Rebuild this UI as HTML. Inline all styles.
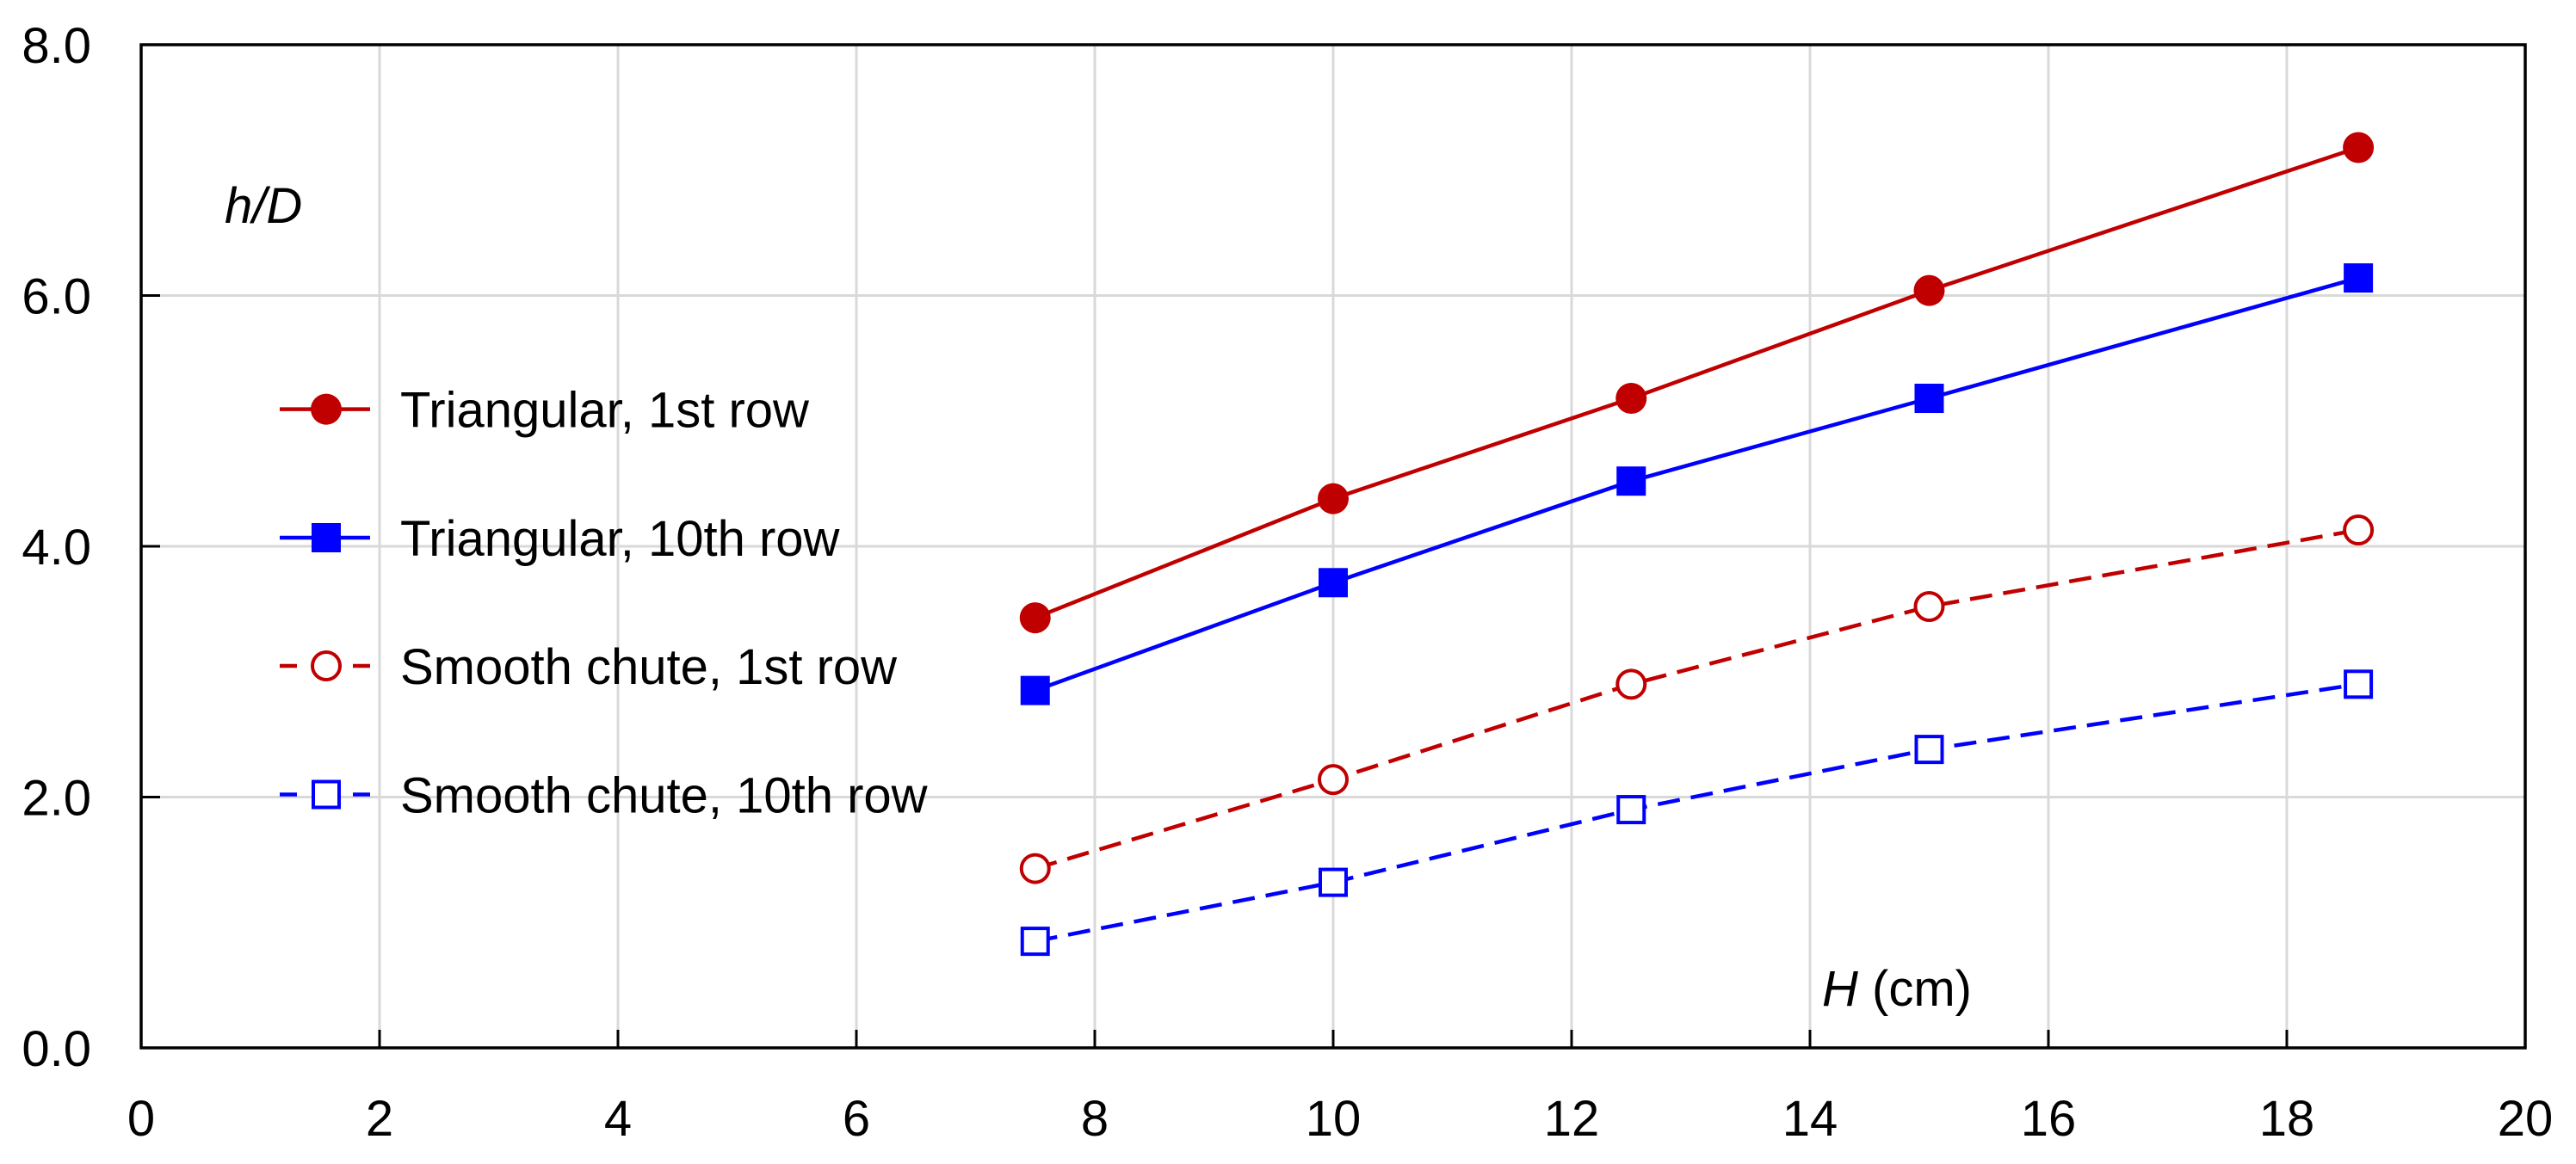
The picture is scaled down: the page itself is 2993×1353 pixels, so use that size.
<!DOCTYPE html>
<html><head><meta charset="utf-8"><style>
html,body{margin:0;padding:0;background:#fff;}
svg{display:block;font-family:"Liberation Sans",sans-serif;}
</style></head><body>
<svg id="chart" width="2993" height="1353" viewBox="0 0 2993 1353" xmlns="http://www.w3.org/2000/svg">
<g id="grid"></g>
<g id="series"></g>
<rect x="164" y="52" width="2770" height="1166" fill="none" stroke="#000" stroke-width="3.5"/>
<g id="ticks"></g>
<text x="261" y="259" font-size="58" font-style="italic">h/D</text>
<text x="2117" y="1169" font-size="58"><tspan font-style="italic">H</tspan> (cm)</text>
<g id="legend"></g>
</svg>
<script>
const categories = [7.5, 10, 12.5, 15, 18.6];
const triFirst = [3.43, 4.38, 5.18, 6.04, 7.18];
const triTenth = [2.85, 3.71, 4.52, 5.18, 6.14];
const smoothFirst = [1.43, 2.14, 2.90, 3.52, 4.13];
const smoothTenth = [0.85, 1.32, 1.90, 2.38, 2.90];
const xTicks = [0, 2, 4, 6, 8, 10, 12, 14, 16, 18, 20];
const yTicks = [0, 2, 4, 6, 8];
const yTickLabels = ["0.0", "2.0", "4.0", "6.0", "8.0"];
const seriesNames = ["Triangular, 1st row", "Triangular, 10th row", "Smooth chute, 1st row", "Smooth chute, 10th row"];

const NS = "http://www.w3.org/2000/svg";
const L = 164, R = 2934, T = 52, B = 1218;
const xs = v => L + (v - 0) / 20 * (R - L);
const ys = v => B - (v - 0) / 8 * (B - T);
function mk(tag, attrs, parent) {
  const e = document.createElementNS(NS, tag);
  for (const k in attrs) e.setAttribute(k, attrs[k]);
  parent.appendChild(e);
  return e;
}
const grid = document.getElementById('grid');
const ticks = document.getElementById('ticks');
xTicks.forEach(t => {
  if (t > 0 && t < 20) {
    const g = mk('line', {x1: xs(t), x2: xs(t), y1: T, y2: B, stroke: '#d9d9d9', 'stroke-width': 3}, grid);
    
    
    const tk = mk('line', {x1: xs(t), x2: xs(t), y1: B, y2: B - 21, stroke: '#000', 'stroke-width': 3}, ticks);
    
    
  }
  const lb = mk('text', {x: xs(t), y: 1320, 'font-size': 58, 'text-anchor': 'middle'}, ticks);
  lb.textContent = t;
  
  
});
yTicks.forEach((t, i) => {
  if (t > 0 && t < 8) {
    const g = mk('line', {x1: L, x2: R, y1: ys(t), y2: ys(t), stroke: '#d9d9d9', 'stroke-width': 3}, grid);
    
    
    const tk = mk('line', {x1: L, x2: L + 22, y1: ys(t), y2: ys(t), stroke: '#000', 'stroke-width': 3}, ticks);
    
    
  }
  const lb = mk('text', {x: 106, y: ys(t) + 21, 'font-size': 58, 'text-anchor': 'end'}, ticks);
  lb.textContent = yTickLabels[i];
  
  
});

const RED = '#c00000', BLUE = '#0000ff';
const styles = [
  {data: triFirst, color: RED, dash: null, shape: 'circle', fill: true},
  {data: triTenth, color: BLUE, dash: null, shape: 'square', fill: true},
  {data: smoothFirst, color: RED, dash: '26 13', shape: 'circle', fill: false},
  {data: smoothTenth, color: BLUE, dash: '26 13', shape: 'square', fill: false}
];
function marker(shape, cx, cy, color, fill, parent) {
  let m;
  if (shape === 'circle') {
    m = mk('circle', {cx: cx, cy: cy, r: fill ? 18 : 16, fill: fill ? color : '#fff', stroke: color, 'stroke-width': fill ? 0 : 4}, parent);
  } else {
    const h = fill ? 17 : 15;
    m = mk('rect', {x: cx - h, y: cy - h, width: 2 * h, height: 2 * h, fill: fill ? color : '#fff', stroke: color, 'stroke-width': fill ? 0 : 4}, parent);
  }
  return m;
}
const sg = document.getElementById('series');
styles.forEach((s, si) => {
  const g = mk('g', {}, sg);
  
  
  const pts = s.data.map((v, i) => xs(categories[i]) + ',' + ys(v)).join(' ');
  const pl = mk('polyline', {points: pts, fill: 'none', stroke: s.color, 'stroke-width': 4.5}, g);
  if (s.dash) pl.setAttribute('stroke-dasharray', s.dash);
  
  
  s.data.forEach((v, i) => {
    const m = marker(s.shape, xs(categories[i]), ys(v), s.color, s.fill, g);
    
    
  });
});

const lg = document.getElementById('legend');
const rowsY = [475.6, 625, 774, 923.5];
styles.forEach((s, i) => {
  const g = mk('g', {}, lg);
  
  
  const y = rowsY[i];
  const ln = mk('line', {x1: 325, x2: 430, y1: y, y2: y, stroke: s.color, 'stroke-width': 4.5}, g);
  if (s.dash) ln.setAttribute('stroke-dasharray', '20 65');
  marker(s.shape, 379, y, s.color, s.fill, g);
  const t = mk('text', {x: 465, y: y + 21, 'font-size': 58}, g);
  t.textContent = seriesNames[i];
});
</script>
</body></html>
